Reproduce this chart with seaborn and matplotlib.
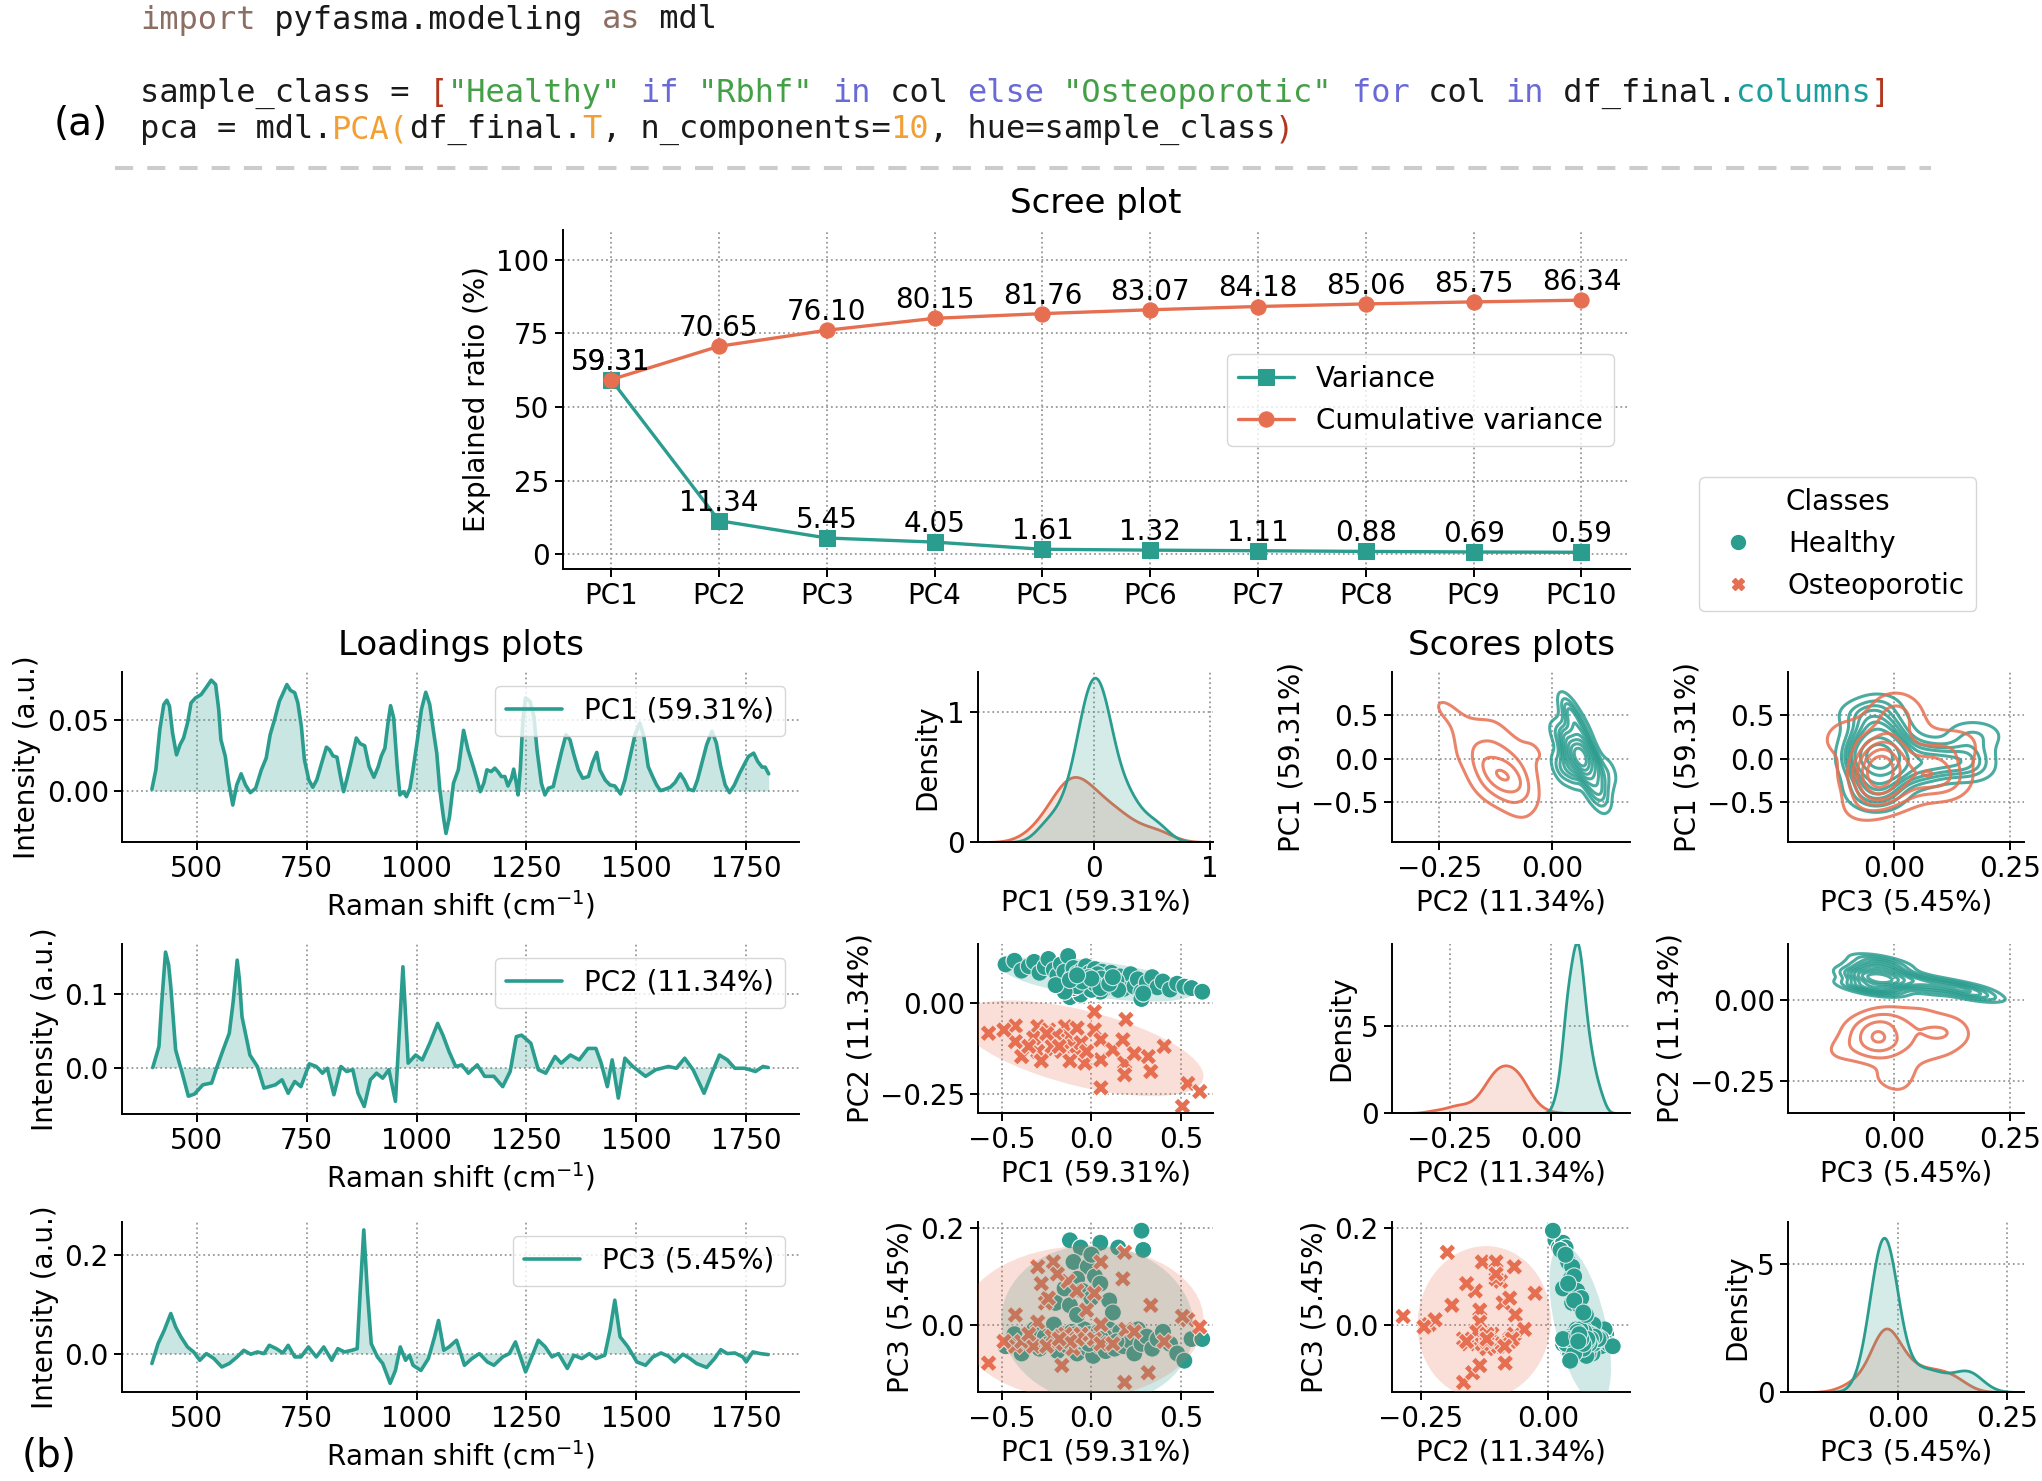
import numpy as np
import pandas as pd
import matplotlib
matplotlib.use("Agg")
import matplotlib.pyplot as plt
from matplotlib.lines import Line2D
from matplotlib.patches import Ellipse
import seaborn as sns

# ---------------- data ----------------
components = ["PC1", "PC2", "PC3", "PC4", "PC5", "PC6", "PC7", "PC8", "PC9", "PC10"]
variance = [59.31, 11.34, 5.45, 4.05, 1.61, 1.32, 1.11, 0.88, 0.69, 0.59]
cumulative = [59.31, 70.65, 76.10, 80.15, 81.76, 83.07, 84.18, 85.06, 85.75, 86.34]

pc_labels = {"PC1": "PC1 (59.31%)", "PC2": "PC2 (11.34%)", "PC3": "PC3 (5.45%)"}

raman_pc1 = [398, 407, 416, 425, 432, 438, 445, 454, 462, 470, 479, 487, 497, 510, 521, 533, 543, 550, 555, 565,
             573, 582, 591, 601, 611, 622, 634, 647, 658, 667, 677, 688, 696, 705, 713, 723, 730, 738, 745, 755,
             764, 773, 783, 795, 802, 810, 819, 827, 834, 842, 852, 863, 872, 882, 892, 903, 913, 920, 928, 935,
             941, 948, 956, 962, 970, 977, 985, 992, 1002, 1011, 1021, 1030, 1038, 1046, 1053, 1061, 1067, 1075, 1084, 1095,
             1107, 1117, 1129, 1138, 1145, 1153, 1160, 1170, 1178, 1185, 1193, 1201, 1208, 1216, 1221, 1227, 1231, 1236, 1242, 1248,
             1258, 1267, 1274, 1284, 1292, 1300, 1311, 1320, 1330, 1340, 1349, 1358, 1368, 1378, 1391, 1400, 1410, 1417, 1429, 1440,
             1451, 1464, 1474, 1486, 1497, 1508, 1517, 1527, 1537, 1546, 1555, 1565, 1577, 1588, 1600, 1609, 1619, 1630, 1639, 1649,
             1660, 1672, 1682, 1692, 1702, 1712, 1723, 1735, 1745, 1755, 1767, 1776, 1786, 1793, 1801]
loading_pc1 = [0.0012, 0.0148, 0.043, 0.0606, 0.0636, 0.0594, 0.0406, 0.0253, 0.0324, 0.0371, 0.0476, 0.0617, 0.0652, 0.0676, 0.0723, 0.0777, 0.0746, 0.057, 0.0359, 0.0242,
               0.0054, -0.0099, 0.0042, 0.012, 0.0042, -0.0012, 0.0019, 0.0148, 0.023, 0.0394, 0.05, 0.0629, 0.0683, 0.0746, 0.0706, 0.0688, 0.0617, 0.0453, 0.0218, 0.0077,
               0.0026, 0.0077, 0.0183, 0.0307, 0.0289, 0.0246, 0.0237, 0.0101, -0.0005, 0.0089, 0.0218, 0.0371, 0.0331, 0.0317, 0.0171, 0.0096, 0.0171, 0.0246, 0.03, 0.0476,
               0.0598, 0.0512, 0.0171, -0.0028, -0.0005, -0.004, 0.0019, 0.0148, 0.0359, 0.057, 0.0692, 0.0606, 0.043, 0.0265, 0.0007, -0.0181, -0.0298, -0.0181, 0.0054, 0.0148,
               0.0425, 0.0289, 0.0171, 0.0077, -0.0005, 0.0054, 0.0148, 0.0136, 0.016, 0.0136, 0.0101, 0.0101, 0.0035, 0.0089, 0.0153, 0.0054, -0.0028, 0.0148, 0.05, 0.0652,
               0.0629, 0.0523, 0.0289, 0.0054, -0.0028, 0.0019, 0.0031, 0.0148, 0.0277, 0.0394, 0.0359, 0.0253, 0.0148, 0.0089, 0.0101, 0.0195, 0.027, 0.0148, 0.0077, 0.0042,
               0.0035, -0.0021, 0.0077, 0.0242, 0.0394, 0.0476, 0.0383, 0.0171, 0.0101, 0.0042, 0.0002, 0.0012, 0.0026, 0.0059, 0.012, 0.0077, 0.0012, 0.0002, 0.0077, 0.0195,
               0.0324, 0.0418, 0.0336, 0.0171, 0.0042, -0.0012, 0.0042, 0.0124, 0.0183, 0.0242, 0.0265, 0.0207, 0.0167, 0.0167, 0.012]

raman_pc2 = [400, 414, 420, 429, 436, 441, 452, 467, 481, 495, 514, 534, 545, 560, 574, 583, 592, 597, 603, 621,
             638, 653, 679, 694, 708, 723, 737, 756, 772, 786, 797, 812, 828, 841, 855, 867, 881, 895, 909, 923,
             937, 952, 969, 981, 998, 1013, 1030, 1048, 1060, 1074, 1089, 1103, 1118, 1138, 1155, 1176, 1196, 1213, 1227, 1239,
             1260, 1277, 1294, 1315, 1329, 1350, 1370, 1390, 1408, 1420, 1434, 1445, 1459, 1474, 1492, 1521, 1544, 1573, 1591, 1610,
             1629, 1654, 1672, 1689, 1707, 1724, 1747, 1771, 1788, 1800]
loading_pc2 = [0.0, 0.0285, 0.085, 0.157, 0.14, 0.11, 0.024, -0.0077, -0.039, -0.036, -0.0235, -0.021, -0.001, 0.024, 0.0466, 0.09, 0.146, 0.12, 0.069, 0.017,
               0.0014, -0.028, -0.0235, -0.0167, -0.035, -0.019, -0.026, 0.005, 0.0014, -0.0077, -0.001, -0.037, 0.0014, -0.0054, -0.003, -0.035, -0.053, -0.0167, -0.0077, -0.0145,
               -0.003, -0.046, 0.137, 0.006, 0.017, 0.0104, 0.033, 0.060, 0.044, 0.0217, 0.0014, 0.0036, -0.0077, 0.0036, -0.012, -0.012, -0.026, -0.0054, 0.042, 0.044,
               0.033, -0.003, -0.0077, 0.015, 0.006, 0.017, 0.0104, 0.026, 0.026, 0.006, -0.026, 0.0104, -0.0416, 0.0127, 0.0014, -0.012, -0.003, 0.0014, -0.001, 0.0127,
               -0.003, -0.035, -0.0077, 0.017, 0.0104, -0.001, -0.001, -0.0054, 0.0014, 0.0]

raman_pc3 = [398, 412, 426, 441, 452, 464, 479, 493, 507, 522, 539, 557, 574, 592, 607, 623, 638, 653, 665, 681,
             696, 708, 723, 737, 754, 772, 789, 807, 821, 836, 853, 865, 872, 880, 888, 897, 911, 923, 940, 952,
             963, 975, 984, 992, 1010, 1027, 1041, 1050, 1062, 1074, 1091, 1109, 1126, 1143, 1161, 1176, 1196, 1211, 1225, 1239,
             1248, 1262, 1277, 1293, 1308, 1323, 1343, 1358, 1376, 1393, 1408, 1428, 1440, 1451, 1463, 1481, 1501, 1521, 1538, 1556,
             1573, 1587, 1606, 1622, 1637, 1660, 1678, 1692, 1707, 1724, 1742, 1750, 1765, 1782, 1800]
loading_pc3 = [-0.02, 0.02, 0.047, 0.081, 0.054, 0.034, 0.0135, 0.0034, -0.0135, 0.0, -0.01, -0.027, -0.02, -0.0067, 0.0067, -0.0013, 0.0034, 0.0, 0.0168, 0.01,
               0.0013, 0.0168, -0.0067, -0.0067, 0.0135, -0.0067, 0.0135, -0.0135, 0.01, 0.0034, 0.0067, 0.01, 0.128, 0.25, 0.128, 0.02, -0.0067, -0.02, -0.06, -0.034,
               0.0135, -0.0135, -0.0034, -0.0236, -0.034, -0.01, 0.034, 0.067, 0.0067, 0.0135, 0.027, -0.0236, -0.01, 0.0, -0.0168, -0.0236, -0.0067, 0.0, 0.0236, -0.0135,
               -0.037, -0.0067, 0.027, 0.0135, -0.0067, 0.0, -0.03, -0.0034, -0.01, 0.0, -0.01, -0.0034, 0.047, 0.108, 0.034, 0.0135, -0.0168, -0.0236, -0.0067, 0.0013,
               -0.0054, -0.0168, -0.0013, -0.01, -0.02, -0.028, -0.01, 0.008, 0.0, 0.0013, -0.0067, -0.0168, 0.0034, 0.0, -0.002]

healthy_pc1 = [-0.48, -0.43, -0.39, -0.35, -0.32, -0.29, -0.26, -0.24, -0.21, -0.19, -0.17, -0.15, -0.13, -0.11, -0.10, -0.08, -0.07, -0.05, -0.04, -0.03,
               -0.02, -0.01, 0.00, 0.01, 0.02, 0.03, 0.04, 0.05, 0.06, 0.07, 0.08, 0.09, 0.10, 0.11, 0.12, 0.13, 0.15, 0.16, 0.18, 0.20,
               0.22, 0.24, 0.26, 0.28, 0.31, 0.34, 0.37, 0.40, 0.44, 0.48, 0.52, 0.56, 0.62, -0.06, 0.035, 0.075, -0.015, 0.055, -0.09, 0.14,
               -0.12, -0.06, 0.05, 0.15, 0.28, 0.29, -0.10, -0.02, 0.00, -0.08, 0.02, -0.15, -0.05, 0.05, -0.20, -0.12, 0.00, 0.10, -0.08, 0.12]
healthy_pc2 = [0.105, 0.115, 0.088, 0.100, 0.112, 0.082, 0.098, 0.120, 0.090, 0.075, 0.105, 0.085, 0.128, 0.070, 0.095, 0.080, 0.060, 0.090, 0.072, 0.100,
               0.064, 0.082, 0.055, 0.076, 0.092, 0.060, 0.070, 0.048, 0.085, 0.062, 0.040, 0.074, 0.056, 0.082, 0.045, 0.066, 0.052, 0.072, 0.038, 0.060,
               0.078, 0.044, 0.064, 0.030, 0.055, 0.070, 0.042, 0.058, 0.036, 0.052, 0.044, 0.040, 0.030, 0.068, 0.078, 0.058, 0.070, 0.066, 0.062, 0.060,
               0.015, 0.022, 0.030, 0.035, 0.010, 0.025, 0.040, 0.048, 0.035, 0.045, 0.052, 0.030, 0.058, 0.040, 0.048, 0.062, 0.066, 0.052, 0.075, 0.070]
healthy_pc3 = [-0.045, -0.02, -0.06, -0.035, -0.01, -0.05, -0.025, -0.04, 0.0, -0.055, -0.03, -0.02, -0.045, -0.015, -0.035, -0.06, -0.025, -0.04, -0.01, -0.03,
               -0.05, -0.02, -0.035, -0.065, -0.025, -0.04, -0.015, -0.045, -0.03, -0.02, -0.055, -0.035, -0.01, -0.04, -0.025, -0.05, -0.03, -0.015, -0.045, -0.02,
               -0.035, -0.06, -0.01, -0.04, -0.025, -0.05, -0.03, -0.015, -0.04, -0.06, -0.075, -0.03, -0.03, -0.035, -0.03, -0.025, -0.04, -0.03, -0.02, -0.035,
               0.175, 0.16, 0.17, 0.16, 0.195, 0.155, 0.13, 0.12, 0.145, 0.095, 0.10, 0.075, 0.07, 0.085, 0.045, 0.04, 0.055, 0.05, 0.02, 0.025]

osteo_pc1 = [-0.575, -0.425, -0.425, -0.39, -0.30, -0.257, -0.212, -0.146, -0.13, -0.103, -0.081, -0.036, 0.017, 0.017, 0.053, 0.053, 0.053, 0.12, 0.176, 0.186,
             0.193, 0.186, 0.318, 0.332, 0.407, 0.539, 0.606, 0.509, -0.489, -0.323, -0.19, -0.058, -0.027, -0.165, -0.30, -0.24, 0.24, -0.20, -0.08, -0.22,
             -0.25, -0.35, -0.28, -0.12, -0.18]
osteo_pc2 = [-0.084, -0.064, -0.107, -0.148, -0.066, -0.088, -0.129, -0.066, -0.093, -0.12, -0.143, -0.166, -0.025, -0.075, -0.102, -0.157, -0.234, -0.129, -0.102, -0.166,
             -0.046, -0.198, -0.148, -0.189, -0.12, -0.222, -0.244, -0.285, -0.075, -0.097, -0.102, -0.11, -0.134, -0.134, -0.134, -0.075, -0.14, -0.09, -0.07, -0.12,
             -0.085, -0.12, -0.16, -0.16, -0.12]
osteo_pc3 = [-0.08, 0.02, -0.045, -0.035, 0.12, 0.045, 0.13, -0.02, 0.09, -0.05, 0.07, -0.03, 0.065, -0.03, 0.13, -0.04, 0.0, -0.04, 0.095, -0.12,
             -0.01, 0.15, -0.10, 0.04, -0.035, 0.01, -0.005, 0.017, -0.035, -0.045, 0.105, -0.02, 0.03, -0.085, 0.005, 0.055, -0.015, -0.04, -0.03, -0.025,
             -0.045, -0.02, 0.085, -0.035, -0.03]

class_names = ["Healthy", "Osteoporotic"]

# ---------------- style ----------------
TEAL = "#2a9d8f"
CORAL = "#e76f51"
palette = {"Healthy": TEAL, "Osteoporotic": CORAL}

sns.set_style("ticks")
plt.rcParams["font.family"] = ["DejaVu Sans"]
plt.rcParams["axes.linewidth"] = 1.4
plt.rcParams["xtick.major.width"] = 1.4
plt.rcParams["ytick.major.width"] = 1.4
plt.rcParams["xtick.major.size"] = 6
plt.rcParams["ytick.major.size"] = 6
plt.rcParams["axes.edgecolor"] = "black"
plt.rcParams["xtick.color"] = "black"
plt.rcParams["ytick.color"] = "black"
plt.rcParams["axes.labelcolor"] = "black"
plt.rcParams["text.color"] = "black"

FS = 20
W, H = 2042, 1481
fig = plt.figure(figsize=(W / 100, H / 100), dpi=100)


def rect(l, t, r, b):
    return [l / W, 1 - b / H, (r - l) / W, (b - t) / H]


def style_ax(ax):
    sns.despine(ax=ax)
    ax.grid(True, linestyle=":", color="#999999", linewidth=1.3)
    ax.set_axisbelow(True)
    ax.tick_params(labelsize=FS)


# ---------------- code header ----------------
MONO_FS = 23
char_px = 0.60205 * MONO_FS * 100 / 72
x0 = 140
C_KW = "#8c6e63"
C_STR = "#43a047"
C_BLUE = "#6a6ad6"
C_TEAL = "#1b9e9e"
C_RED = "#b3361f"
C_ORG = "#f2a035"
C_BLK = "#1a1a1a"
code_lines = [
    (28.5, [("import", C_KW), (" pyfasma.modeling ", C_BLK), ("as", C_KW), (" mdl", C_BLK)]),
    (101.7, [("sample_class = ", C_BLK), ("[", C_RED), ('"Healthy"', C_STR), (" ", C_BLK), ("if", C_BLUE), (" ", C_BLK),
             ('"Rbhf"', C_STR), (" ", C_BLK), ("in", C_BLUE), (" col ", C_BLK), ("else", C_BLUE), (" ", C_BLK),
             ('"Osteoporotic"', C_STR), (" ", C_BLK), ("for", C_BLUE), (" col ", C_BLK), ("in", C_BLUE),
             (" df_final.", C_BLK), ("columns", C_TEAL), ("]", C_RED)]),
    (138.3, [("pca = mdl.", C_BLK), ("PCA(", C_ORG), ("df_final.", C_BLK), ("T", C_ORG), (", n_components=", C_BLK),
             ("10", C_ORG), (", hue=sample_class", C_BLK), (")", C_RED)]),
]
for base_y, segs in code_lines:
    n = 0
    for s, c in segs:
        fig.text((x0 + n * char_px) / W, 1 - base_y / H, s, color=c, fontsize=MONO_FS,
                 family="DejaVu Sans Mono", va="baseline", ha="left")
        n += len(s)

fig.add_artist(Line2D([115 / W, 1931 / W], [1 - 168 / H, 1 - 168 / H], transform=fig.transFigure,
                      color="#cccccc", linewidth=2.9, linestyle=(0, (4.5, 3.5)), solid_capstyle="butt"))

fig.text(81 / W, 1 - 124 / H, "(a)", fontsize=28, ha="center", va="center")
fig.text(49 / W, 1 - 1456 / H, "(b)", fontsize=28, ha="center", va="center")

# ---------------- scree plot ----------------
ax = fig.add_axes(rect(562.6, 230, 1630, 569))
xpos = np.arange(len(components))
sns.lineplot(x=xpos, y=variance, ax=ax, color=TEAL, marker="s", markersize=11, linewidth=2.4,
             markeredgecolor=TEAL, label="Variance")
sns.lineplot(x=xpos, y=cumulative, ax=ax, color=CORAL, marker="o", markersize=11, linewidth=2.4,
             markeredgecolor=CORAL, label="Cumulative variance")
for i in range(len(components)):
    ax.annotate(f"{variance[i]:.2f}", (xpos[i], variance[i]), textcoords="offset points", xytext=(0, 13),
                ha="center", va="center", fontsize=FS)
    ax.annotate(f"{cumulative[i]:.2f}", (xpos[i], cumulative[i]), textcoords="offset points", xytext=(0, 13),
                ha="center", va="center", fontsize=FS)
ax.set_xticks(xpos)
ax.set_xticklabels(components)
ax.set_yticks([0, 25, 50, 75, 100])
ax.set_xlim(-0.45, 9.45)
ax.set_ylim(-5.1, 110.2)
ax.set_ylabel("Explained ratio (%)", fontsize=FS)
style_ax(ax)
ax.legend(loc="upper right", bbox_to_anchor=(0.985, 0.635), fontsize=FS, borderaxespad=0)
fig.text(1096 / W, 1 - 203 / H, "Scree plot", fontsize=24.5, ha="center", va="center")

# ---------------- loadings ----------------
fig.text(461 / W, 1 - 646 / H, "Loadings plots", fontsize=24.5, ha="center", va="center")
fig.text(1511 / W, 1 - 646 / H, "Scores plots", fontsize=24.5, ha="center", va="center")

load_rows = [
    (raman_pc1, loading_pc1, "PC1 (59.31%)", (672, 842), (-0.0358, 0.0834), [0.0, 0.05]),
    (raman_pc2, loading_pc2, "PC2 (11.34%)", (944, 1114), (-0.0632, 0.168), [0.0, 0.1]),
    (raman_pc3, loading_pc3, "PC3 (5.45%)", (1222, 1392), (-0.0776, 0.266), [0.0, 0.2]),
]
for xs, ys, lab, (t, b), ylim, yt in load_rows:
    ax = fig.add_axes(rect(122, t, 799, b))
    sns.lineplot(x=xs, y=ys, ax=ax, color=TEAL, linewidth=2.6, label=lab)
    ax.fill_between(xs, ys, 0, color=TEAL, alpha=0.25, linewidth=0)
    ax.set_xlim(330, 1870)
    ax.set_ylim(*ylim)
    ax.set_xticks([500, 750, 1000, 1250, 1500, 1750])
    ax.set_yticks(yt)
    ax.set_xlabel("Raman shift (cm$^{-1}$)", fontsize=FS)
    ax.set_ylabel("Intensity (a.u.)", fontsize=FS)
    style_ax(ax)
    ax.legend(loc="upper right", fontsize=FS)

# ---------------- scores pair grid ----------------
scores = pd.DataFrame({
    "PC1": healthy_pc1 + osteo_pc1,
    "PC2": healthy_pc2 + osteo_pc2,
    "PC3": healthy_pc3 + osteo_pc3,
    "Class": ["Healthy"] * len(healthy_pc1) + ["Osteoporotic"] * len(osteo_pc1),
})

cols_px = [(978, 1213), (1392, 1630), (1788, 2024)]
rows_px = [(672, 842), (944, 1113), (1222, 1392)]
pcs = ["PC1", "PC2", "PC3"]

limits = {
    (0, 0): ((-1.01, 1.03), (0, 1.31), [0, 1], [0, 1]),
    (0, 1): ((-0.355, 0.174), (-0.955, 1.0), [-0.25, 0.0], [-0.5, 0.0, 0.5]),
    (0, 2): ((-0.228, 0.281), (-0.955, 1.0), [0.0, 0.25], [-0.5, 0.0, 0.5]),
    (1, 0): ((-0.634, 0.68), (-0.303, 0.161), [-0.5, 0.0, 0.5], [-0.25, 0.0]),
    (1, 1): ((-0.393, 0.194), (0, 9.66), [-0.25, 0.0], [0, 5]),
    (1, 2): ((-0.228, 0.281), (-0.35, 0.174), [0.0, 0.25], [-0.25, 0.0]),
    (2, 0): ((-0.634, 0.68), (-0.14, 0.213), [-0.5, 0.0, 0.5], [0.0, 0.2]),
    (2, 1): ((-0.307, 0.162), (-0.14, 0.213), [-0.25, 0.0], [0.0, 0.2]),
    (2, 2): ((-0.254, 0.29), (0, 6.62), [0.0, 0.25], [0, 5]),
}


def add_ellipse(ax, x, y, color):
    x = np.asarray(x)
    y = np.asarray(y)
    cov = np.cov(x, y)
    vals, vecs = np.linalg.eigh(cov)
    order = vals.argsort()[::-1]
    vals, vecs = vals[order], vecs[:, order]
    angle = np.degrees(np.arctan2(vecs[1, 0], vecs[0, 0]))
    w, h = 2 * 2.4477 * np.sqrt(vals)
    ax.add_patch(Ellipse((x.mean(), y.mean()), w, h, angle=angle, facecolor=color,
                         edgecolor="none", alpha=0.22, zorder=3))


for i, ypc in enumerate(pcs):
    for j, xpc in enumerate(pcs):
        (l, r), (t, b) = cols_px[j], rows_px[i]
        ax = fig.add_axes(rect(l, t, r, b))
        if i == j:
            sns.kdeplot(data=scores, x=xpc, hue="Class", hue_order=class_names, palette=palette,
                        fill=True, common_norm=True, alpha=0.2, linewidth=2, legend=False, ax=ax)
            ax.set_ylabel("Density", fontsize=FS)
        elif i > j:
            sns.scatterplot(data=scores, x=xpc, y=ypc, hue="Class", hue_order=class_names, style="Class",
                            markers={"Healthy": "o", "Osteoporotic": "X"}, palette=palette, s=150,
                            edgecolor="white", linewidth=0.8, legend=False, ax=ax, zorder=2)
            for cname in class_names:
                sub = scores[scores["Class"] == cname]
                add_ellipse(ax, sub[xpc], sub[ypc], palette[cname])
            ax.set_ylabel(pc_labels[ypc], fontsize=FS)
        else:
            sns.kdeplot(data=scores, x=xpc, y=ypc, hue="Class", hue_order=class_names, palette=palette,
                        levels=10, linewidths=2.2, alpha=0.85, legend=False, ax=ax)
            ax.set_ylabel(pc_labels[ypc], fontsize=FS)
        xl, yl, xt, yt = limits[(i, j)]
        ax.set_xlim(*xl)
        ax.set_ylim(*yl)
        ax.set_xticks(xt)
        ax.set_yticks(yt)
        ax.set_xlabel(pc_labels[xpc], fontsize=FS)
        style_ax(ax)

# ---------------- classes legend ----------------
handles = [Line2D([], [], marker="o", linestyle="", color=TEAL, markersize=10),
           Line2D([], [], marker="X", linestyle="", color=CORAL, markersize=9)]
fig.legend(handles=handles, labels=class_names, title="Classes", loc="upper left",
           bbox_to_anchor=(1699 / W, 1 - 477 / H), fontsize=FS, title_fontsize=FS, borderaxespad=0)

fig.savefig("out.png", dpi=100)
